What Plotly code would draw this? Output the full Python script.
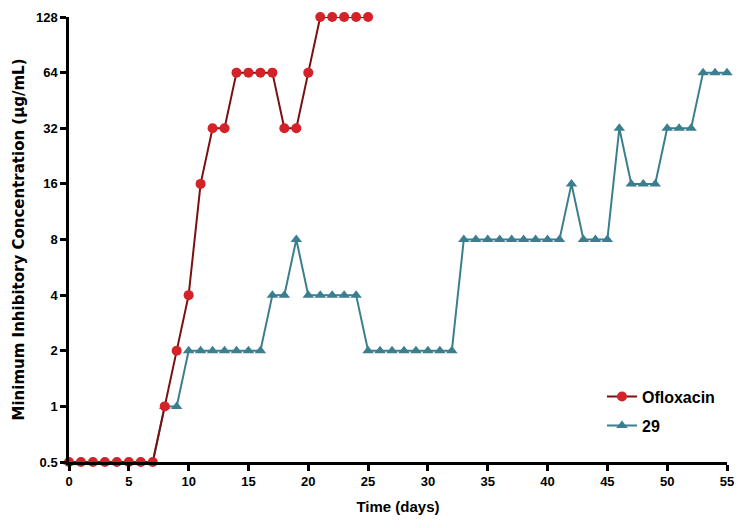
import plotly.graph_objects as go

days_oflox = list(range(0, 26))
mic_oflox = [0.5, 0.5, 0.5, 0.5, 0.5, 0.5, 0.5, 0.5, 1, 2, 4, 16, 32, 32,
             64, 64, 64, 64, 32, 32, 64, 128, 128, 128, 128, 128]

days_29 = list(range(0, 56))
mic_29 = [0.5, 0.5, 0.5, 0.5, 0.5, 0.5, 0.5, 0.5, 1, 1,
          2, 2, 2, 2, 2, 2, 2, 4, 4, 8,
          4, 4, 4, 4, 4, 2, 2, 2, 2, 2,
          2, 2, 2, 8, 8, 8, 8, 8, 8, 8,
          8, 8, 16, 8, 8, 8, 32, 16, 16, 16,
          32, 32, 32, 64, 64, 64]

y_ticks = [0.5, 1, 2, 4, 8, 16, 32, 64, 128]
y_tick_labels = ["0.5", "1", "2", "4", "8", "16", "32", "64", "128"]
x_ticks = list(range(0, 56, 5))

font_family = "Liberation Sans, Arial, sans-serif"
title_family = "DejaVu Sans, Liberation Sans, sans-serif"

fig = go.Figure()
fig.add_trace(go.Scatter(
    x=days_29, y=mic_29, name="29", mode="lines+markers",
    legendgroup="b", legendrank=2,
    line=dict(color="#3b7f8f", width=2),
    marker=dict(symbol="triangle-up", size=10, color="#3b7f8f"),
    cliponaxis=False,
))
fig.add_trace(go.Scatter(
    x=days_oflox, y=mic_oflox, name="Ofloxacin", mode="lines+markers",
    legendgroup="a", legendrank=1,
    line=dict(color="#7a1010", width=2),
    marker=dict(symbol="circle", size=10, color="#d42228"),
    cliponaxis=False,
))

fig.update_layout(
    width=737, height=520,
    margin=dict(l=61, r=18, t=9, b=66, autoexpand=False),
    plot_bgcolor="white", paper_bgcolor="white",
    font=dict(family=font_family, size=12, color="black"),
    showlegend=True,
    legend=dict(x=0.81, y=0.185, xanchor="left", yanchor="top",
                traceorder="grouped", tracegroupgap=5,
                font=dict(family=font_family, size=16, color="black", weight="bold"),
                bgcolor="rgba(0,0,0,0)", itemwidth=30),
    xaxis=dict(
        range=[0, 55], tickvals=x_ticks, showgrid=False, zeroline=False,
        automargin=False,
        showline=True, linecolor="black", linewidth=2.5,
        ticks="outside", tickwidth=2.5, ticklen=6, tickcolor="black",
        tickfont=dict(size=13, weight="bold"),
        title=dict(text="Time (days)", font=dict(family=font_family, size=15, weight="bold"),
                   standoff=14),
    ),
    yaxis=dict(
        type="log", range=[-0.30103, 2.10721], tickvals=y_ticks, ticktext=y_tick_labels,
        showgrid=False, zeroline=False, automargin=False,
        showline=True, linecolor="black", linewidth=2.5,
        ticks="outside", tickwidth=2.5, ticklen=6, tickcolor="black",
        tickfont=dict(size=13, weight="bold"),
        title=dict(text="Minimum Inhibitory Concentration (µg/mL)",
                   font=dict(family=title_family, size=15, weight="bold"), standoff=8),
    ),
)

fig.write_html("out.html")
